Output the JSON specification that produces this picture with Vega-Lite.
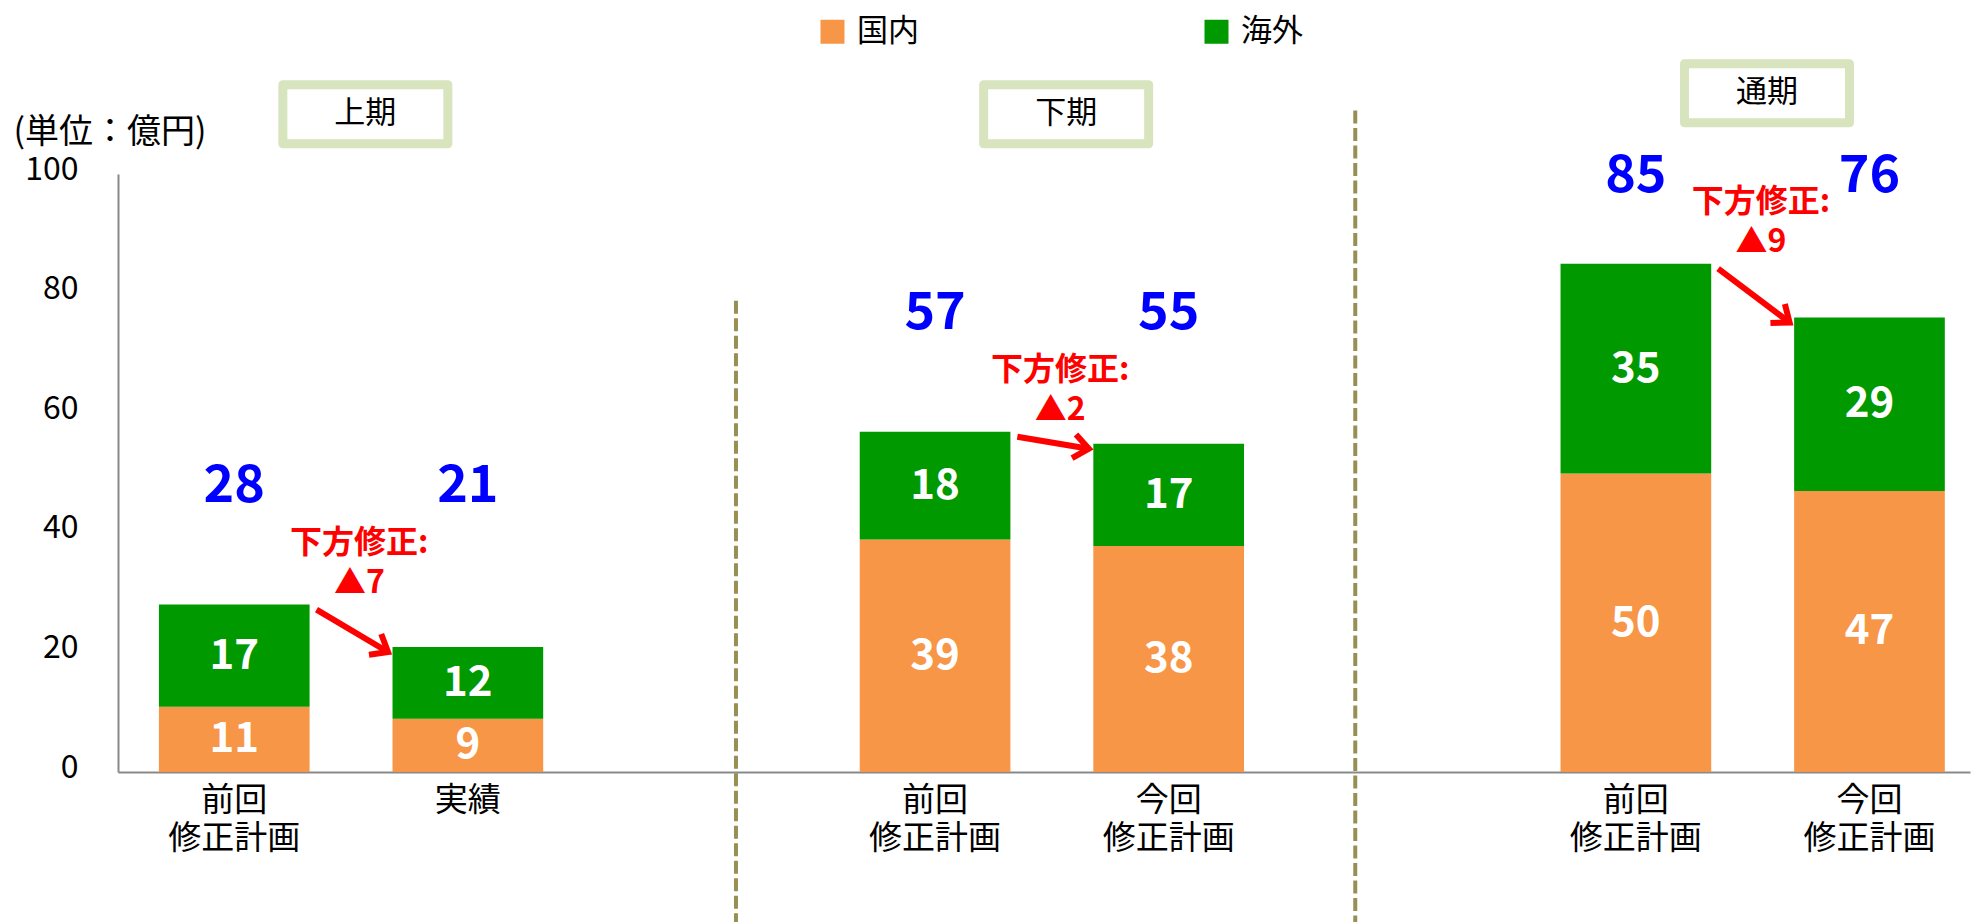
{
  "$schema": "https://vega.github.io/schema/vega-lite/v6.json",
  "width": 1852,
  "height": 598,
  "autosize": {"type": "none"},
  "padding": {"left": 118, "top": 174, "right": 3, "bottom": 150},
  "background": "white",
  "config": {"view": {"stroke": null}, "font": "Noto Sans CJK JP"},
  "datasets": {
    "bars": [
      {"slot": "s1|前回|修正計画", "period": "上期", "type": "国内", "value": 10.9},
      {"slot": "s1|前回|修正計画", "period": "上期", "type": "海外", "value": 17.1},
      {"slot": "s2|実績", "period": "上期", "type": "国内", "value": 8.9},
      {"slot": "s2|実績", "period": "上期", "type": "海外", "value": 12.0},
      {"slot": "s4|前回|修正計画", "period": "下期", "type": "国内", "value": 38.9},
      {"slot": "s4|前回|修正計画", "period": "下期", "type": "海外", "value": 18.0},
      {"slot": "s5|今回|修正計画", "period": "下期", "type": "国内", "value": 37.8},
      {"slot": "s5|今回|修正計画", "period": "下期", "type": "海外", "value": 17.1},
      {"slot": "s7|前回|修正計画", "period": "通期", "type": "国内", "value": 49.9},
      {"slot": "s7|前回|修正計画", "period": "通期", "type": "海外", "value": 35.1},
      {"slot": "s8|今回|修正計画", "period": "通期", "type": "国内", "value": 47.0},
      {"slot": "s8|今回|修正計画", "period": "通期", "type": "海外", "value": 29.0}
    ],
    "periods": [
      {"period": "上期", "slot": "s1|前回|修正計画"},
      {"period": "下期", "slot": "s4|前回|修正計画"},
      {"period": "通期", "slot": "s7|前回|修正計画"}
    ],
    "changes": [
      {"period": "上期", "slot": "s1|前回|修正計画", "to": "s2|実績", "fromTotal": 28.0, "toTotal": 20.9, "note": "下方修正:\n▲7"},
      {"period": "下期", "slot": "s4|前回|修正計画", "to": "s5|今回|修正計画", "fromTotal": 56.9, "toTotal": 54.9, "note": "下方修正:\n▲2"},
      {"period": "通期", "slot": "s7|前回|修正計画", "to": "s8|今回|修正計画", "fromTotal": 85.0, "toTotal": 76.0, "note": "下方修正:\n▲9"}
    ],
    "dividers": [{"slot": "g1"}, {"slot": "g2"}]
  },
  "layer": [
    {
      "data": {"name": "dividers"},
      "transform": [{"filter": "datum.slot == 'g1'"}],
      "mark": {"type": "rule", "color": "#988F56", "strokeWidth": 4, "strokeDash": [13, 4.5]},
      "encoding": {
        "x": {"field": "slot", "type": "nominal", "bandPosition": 0.729, "title": null,
              "scale": {"domain": ["s1|前回|修正計画", "s2|実績", "g1", "s4|前回|修正計画", "s5|今回|修正計画", "g2", "s7|前回|修正計画", "s8|今回|修正計画"], "paddingInner": 0.355, "paddingOuter": 0.1415, "align": 0.619}},
        "y": {"datum": 78.8, "type": "quantitative", "scale": {"domain": [0, 100], "nice": false}},
        "y2": {"datum": -25.1}
      }
    },
    {
      "data": {"name": "dividers"},
      "transform": [{"filter": "datum.slot == 'g2'"}],
      "mark": {"type": "rule", "color": "#988F56", "strokeWidth": 4, "strokeDash": [13, 4.5]},
      "encoding": {
        "x": {"field": "slot", "type": "nominal", "bandPosition": 0.188, "title": null,
              "scale": {"domain": ["s1|前回|修正計画", "s2|実績", "g1", "s4|前回|修正計画", "s5|今回|修正計画", "g2", "s7|前回|修正計画", "s8|今回|修正計画"], "paddingInner": 0.355, "paddingOuter": 0.1415, "align": 0.619}},
        "y": {"datum": 110.6, "type": "quantitative", "scale": {"domain": [0, 100], "nice": false}},
        "y2": {"datum": -25.1}
      }
    },
    {
      "data": {"name": "bars"},
      "mark": {"type": "bar"},
      "encoding": {
        "x": {"field": "slot", "type": "nominal", "title": null,
              "scale": {"domain": ["s1|前回|修正計画", "s2|実績", "g1", "s4|前回|修正計画", "s5|今回|修正計画", "g2", "s7|前回|修正計画", "s8|今回|修正計画"], "paddingInner": 0.355, "paddingOuter": 0.1415, "align": 0.619},
              "axis": {"title": null, "labelExpr": "slice(split(datum.label, '|'), 1)", "labelAngle": 0, "labelAlign": "center", "labelBaseline": "top", "labelFont": "Noto Sans CJK JP", "labelFontSize": 33, "labelLineHeight": 38, "labelColor": "#000000", "labelPadding": 12, "labelOverlap": false, "labelLimit": 400, "ticks": false, "tickSize": 0, "grid": false, "domainColor": "#898989", "domainWidth": 2}},
        "y": {"field": "value", "type": "quantitative", "stack": "zero",
              "scale": {"domain": [0, 100], "nice": false},
              "axis": {"values": [0, 20, 40, 60, 80, 100], "title": "(単位：億円)", "titleAngle": 0, "titleAlign": "left", "titleBaseline": "middle", "titleX": -105, "titleY": -42, "titleFont": "Noto Sans CJK JP", "titleFontSize": 34, "titleFontWeight": "normal", "titleColor": "#000000", "labelFont": "Noto Sans CJK JP", "labelFontSize": 32, "labelColor": "#000000", "labelPadding": 40, "labelOffset": -5, "ticks": false, "tickSize": 0, "grid": false, "domainColor": "#898989", "domainWidth": 2}},
        "color": {"field": "type", "type": "nominal",
                  "scale": {"domain": ["国内", "海外"], "range": ["#F79646", "#009900"]},
                  "legend": {"orient": "none", "legendX": 699, "legendY": -158, "direction": "horizontal", "title": null, "symbolType": "square", "symbolSize": 576, "symbolStrokeWidth": 0, "symbolOpacity": 1, "labelFont": "Noto Sans CJK JP", "labelFontSize": 31, "labelColor": "#000000", "labelOffset": 9, "columnPadding": 282, "padding": 0}},
        "order": {"field": "type", "type": "nominal", "sort": "ascending"}
      }
    },
    {
      "data": {"name": "bars"},
      "mark": {"type": "text", "color": "white", "font": "Noto Sans CJK JP", "fontSize": 42, "fontWeight": "bold", "baseline": "middle", "align": "center"},
      "encoding": {
        "x": {"field": "slot", "type": "nominal", "title": null,
              "scale": {"domain": ["s1|前回|修正計画", "s2|実績", "g1", "s4|前回|修正計画", "s5|今回|修正計画", "g2", "s7|前回|修正計画", "s8|今回|修正計画"], "paddingInner": 0.355, "paddingOuter": 0.1415, "align": 0.619}},
        "y": {"field": "value", "type": "quantitative", "stack": "zero", "bandPosition": 0.5, "scale": {"domain": [0, 100], "nice": false}},
        "detail": {"field": "type", "type": "nominal"},
        "order": {"field": "type", "type": "nominal", "sort": "ascending"},
        "text": {"field": "value", "type": "quantitative", "format": ".0f"}
      }
    },
    {
      "data": {"name": "bars"},
      "transform": [
        {"aggregate": [{"op": "sum", "field": "value", "as": "total"}], "groupby": ["slot", "period"]},
        {"joinaggregate": [{"op": "max", "field": "total", "as": "groupTop"}], "groupby": ["period"]},
        {"filter": "datum.period != '通期'"}
      ],
      "mark": {"type": "text", "color": "#0000FF", "font": "Noto Sans CJK JP", "fontSize": 52, "fontWeight": "bold", "baseline": "middle", "align": "center", "dy": -119},
      "encoding": {
        "x": {"field": "slot", "type": "nominal", "title": null,
              "scale": {"domain": ["s1|前回|修正計画", "s2|実績", "g1", "s4|前回|修正計画", "s5|今回|修正計画", "g2", "s7|前回|修正計画", "s8|今回|修正計画"], "paddingInner": 0.355, "paddingOuter": 0.1415, "align": 0.619}},
        "y": {"field": "groupTop", "type": "quantitative", "scale": {"domain": [0, 100], "nice": false}},
        "text": {"field": "total", "type": "quantitative", "format": ".0f"}
      }
    },
    {
      "data": {"name": "bars"},
      "transform": [
        {"aggregate": [{"op": "sum", "field": "value", "as": "total"}], "groupby": ["slot", "period"]},
        {"joinaggregate": [{"op": "max", "field": "total", "as": "groupTop"}], "groupby": ["period"]},
        {"filter": "datum.period == '通期'"}
      ],
      "mark": {"type": "text", "color": "#0000FF", "font": "Noto Sans CJK JP", "fontSize": 52, "fontWeight": "bold", "baseline": "middle", "align": "center", "dy": -88},
      "encoding": {
        "x": {"field": "slot", "type": "nominal", "title": null,
              "scale": {"domain": ["s1|前回|修正計画", "s2|実績", "g1", "s4|前回|修正計画", "s5|今回|修正計画", "g2", "s7|前回|修正計画", "s8|今回|修正計画"], "paddingInner": 0.355, "paddingOuter": 0.1415, "align": 0.619}},
        "y": {"field": "groupTop", "type": "quantitative", "scale": {"domain": [0, 100], "nice": false}},
        "text": {"field": "total", "type": "quantitative", "format": ".0f"}
      }
    },
    {
      "data": {"name": "periods"},
      "transform": [{"filter": "datum.period != '通期'"}],
      "mark": {"type": "point", "shape": "M -1 -0.3576 L 1 -0.3576 L 1 0.3576 L -1 0.3576 Z", "size": 27225, "filled": false, "fill": "white", "fillOpacity": 1, "stroke": "#D7E4BD", "strokeWidth": 9, "strokeJoin": "round", "opacity": 1},
      "encoding": {
        "x": {"field": "slot", "type": "nominal", "bandPosition": 1.37, "title": null,
              "scale": {"domain": ["s1|前回|修正計画", "s2|実績", "g1", "s4|前回|修正計画", "s5|今回|修正計画", "g2", "s7|前回|修正計画", "s8|今回|修正計画"], "paddingInner": 0.355, "paddingOuter": 0.1415, "align": 0.619}},
        "y": {"datum": 110, "type": "quantitative", "scale": {"domain": [0, 100], "nice": false}}
      }
    },
    {
      "data": {"name": "periods"},
      "transform": [{"filter": "datum.period == '通期'"}],
      "mark": {"type": "point", "shape": "M -1 -0.3576 L 1 -0.3576 L 1 0.3576 L -1 0.3576 Z", "size": 27225, "filled": false, "fill": "white", "fillOpacity": 1, "stroke": "#D7E4BD", "strokeWidth": 9, "strokeJoin": "round", "opacity": 1},
      "encoding": {
        "x": {"field": "slot", "type": "nominal", "bandPosition": 1.37, "title": null,
              "scale": {"domain": ["s1|前回|修正計画", "s2|実績", "g1", "s4|前回|修正計画", "s5|今回|修正計画", "g2", "s7|前回|修正計画", "s8|今回|修正計画"], "paddingInner": 0.355, "paddingOuter": 0.1415, "align": 0.619}},
        "y": {"datum": 113.5, "type": "quantitative", "scale": {"domain": [0, 100], "nice": false}}
      }
    },
    {
      "data": {"name": "periods"},
      "transform": [{"filter": "datum.period != '通期'"}],
      "mark": {"type": "text", "color": "#000000", "font": "Noto Sans CJK JP", "fontSize": 31, "baseline": "middle", "align": "center"},
      "encoding": {
        "x": {"field": "slot", "type": "nominal", "bandPosition": 1.37, "title": null,
              "scale": {"domain": ["s1|前回|修正計画", "s2|実績", "g1", "s4|前回|修正計画", "s5|今回|修正計画", "g2", "s7|前回|修正計画", "s8|今回|修正計画"], "paddingInner": 0.355, "paddingOuter": 0.1415, "align": 0.619}},
        "y": {"datum": 110, "type": "quantitative", "scale": {"domain": [0, 100], "nice": false}},
        "text": {"field": "period", "type": "nominal"}
      }
    },
    {
      "data": {"name": "periods"},
      "transform": [{"filter": "datum.period == '通期'"}],
      "mark": {"type": "text", "color": "#000000", "font": "Noto Sans CJK JP", "fontSize": 31, "baseline": "middle", "align": "center"},
      "encoding": {
        "x": {"field": "slot", "type": "nominal", "bandPosition": 1.37, "title": null,
              "scale": {"domain": ["s1|前回|修正計画", "s2|実績", "g1", "s4|前回|修正計画", "s5|今回|修正計画", "g2", "s7|前回|修正計画", "s8|今回|修正計画"], "paddingInner": 0.355, "paddingOuter": 0.1415, "align": 0.619}},
        "y": {"datum": 113.5, "type": "quantitative", "scale": {"domain": [0, 100], "nice": false}},
        "text": {"field": "period", "type": "nominal"}
      }
    },
    {
      "data": {"name": "changes"},
      "mark": {"type": "text", "color": "#FF0000", "font": "Noto Sans CJK JP", "fontSize": 32, "fontWeight": "bold", "baseline": "middle", "align": "center", "lineBreak": "\n", "lineHeight": 40, "dy": -62},
      "encoding": {
        "x": {"field": "slot", "type": "nominal", "bandPosition": 1.33, "title": null,
              "scale": {"domain": ["s1|前回|修正計画", "s2|実績", "g1", "s4|前回|修正計画", "s5|今回|修正計画", "g2", "s7|前回|修正計画", "s8|今回|修正計画"], "paddingInner": 0.355, "paddingOuter": 0.1415, "align": 0.619}},
        "y": {"field": "fromTotal", "type": "quantitative", "scale": {"domain": [0, 100], "nice": false}},
        "text": {"field": "note", "type": "nominal"}
      }
    },
    {
      "data": {"name": "changes"},
      "mark": {"type": "rule", "color": "#FF0000", "strokeWidth": 6, "yOffset": 5, "y2Offset": 5},
      "encoding": {
        "x": {"field": "slot", "type": "nominal", "bandPosition": 1.046, "title": null,
              "scale": {"domain": ["s1|前回|修正計画", "s2|実績", "g1", "s4|前回|修正計画", "s5|今回|修正計画", "g2", "s7|前回|修正計画", "s8|今回|修正計画"], "paddingInner": 0.355, "paddingOuter": 0.1415, "align": 0.619}},
        "x2": {"field": "to", "bandPosition": -0.03},
        "y": {"field": "fromTotal", "type": "quantitative", "scale": {"domain": [0, 100], "nice": false}},
        "y2": {"field": "toTotal"}
      }
    },
    {
      "data": {"name": "changes"},
      "transform": [{"filter": "datum.period == '上期'"}],
      "mark": {"type": "point", "shape": "M -1 -0.8 L 0 0 L -1 0.8", "size": 900, "filled": false, "stroke": "#FF0000", "strokeWidth": 6, "opacity": 1, "angle": 30.7, "yOffset": 5},
      "encoding": {
        "x": {"field": "to", "type": "nominal", "bandPosition": -0.03, "title": null,
              "scale": {"domain": ["s1|前回|修正計画", "s2|実績", "g1", "s4|前回|修正計画", "s5|今回|修正計画", "g2", "s7|前回|修正計画", "s8|今回|修正計画"], "paddingInner": 0.355, "paddingOuter": 0.1415, "align": 0.619}},
        "y": {"field": "toTotal", "type": "quantitative", "scale": {"domain": [0, 100], "nice": false}}
      }
    },
    {
      "data": {"name": "changes"},
      "transform": [{"filter": "datum.period == '下期'"}],
      "mark": {"type": "point", "shape": "M -1 -0.8 L 0 0 L -1 0.8", "size": 900, "filled": false, "stroke": "#FF0000", "strokeWidth": 6, "opacity": 1, "angle": 9.5, "yOffset": 5},
      "encoding": {
        "x": {"field": "to", "type": "nominal", "bandPosition": -0.03, "title": null,
              "scale": {"domain": ["s1|前回|修正計画", "s2|実績", "g1", "s4|前回|修正計画", "s5|今回|修正計画", "g2", "s7|前回|修正計画", "s8|今回|修正計画"], "paddingInner": 0.355, "paddingOuter": 0.1415, "align": 0.619}},
        "y": {"field": "toTotal", "type": "quantitative", "scale": {"domain": [0, 100], "nice": false}}
      }
    },
    {
      "data": {"name": "changes"},
      "transform": [{"filter": "datum.period == '通期'"}],
      "mark": {"type": "point", "shape": "M -1 -0.8 L 0 0 L -1 0.8", "size": 900, "filled": false, "stroke": "#FF0000", "strokeWidth": 6, "opacity": 1, "angle": 37, "yOffset": 5},
      "encoding": {
        "x": {"field": "to", "type": "nominal", "bandPosition": -0.03, "title": null,
              "scale": {"domain": ["s1|前回|修正計画", "s2|実績", "g1", "s4|前回|修正計画", "s5|今回|修正計画", "g2", "s7|前回|修正計画", "s8|今回|修正計画"], "paddingInner": 0.355, "paddingOuter": 0.1415, "align": 0.619}},
        "y": {"field": "toTotal", "type": "quantitative", "scale": {"domain": [0, 100], "nice": false}}
      }
    }
  ]
}
